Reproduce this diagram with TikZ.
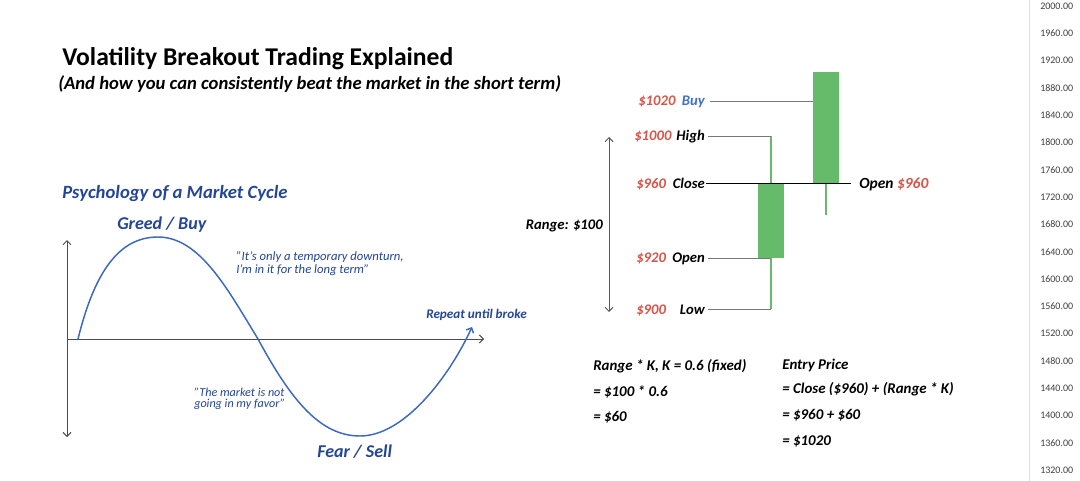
\documentclass[tikz,border=0pt]{standalone}
\usepackage{fontspec}
\setmainfont{Carlito}
\usetikzlibrary{arrows.meta}
\definecolor{psyblue}{RGB}{36,70,148}
\definecolor{curveblue}{RGB}{60,104,192}
\definecolor{pricered}{RGB}{214,84,72}
\definecolor{buyblue}{RGB}{62,112,208}
\definecolor{candle}{RGB}{102,187,106}
\definecolor{leader}{RGB}{120,120,120}
\definecolor{axisgray}{RGB}{222,222,222}

\begin{document}
\begin{tikzpicture}[x=0.75pt,y=-0.75pt,
    txt/.style={inner sep=0pt},
    psy/.style={txt,psyblue,font=\bfseries\itshape\fontsize{13.5}{15}\selectfont},
    quote/.style={txt,psyblue,align=left,font=\itshape\fontsize{9.5}{7.6}\selectfont},
    lbl/.style={txt,font=\bfseries\itshape\fontsize{11}{13}\selectfont},
    calc/.style={txt,anchor=base west,font=\bfseries\itshape\fontsize{11.2}{12}\selectfont},
    lead/.style={draw=leader,line width=0.65pt},
    wick/.style={draw=candle,line width=1.7pt},
    barb/.style={arrows={-{Straight Barb[length=3pt,width=6pt]}}}]
  \useasboundingbox[fill=white] (0,0) rectangle (1080,481);

  % headings
  \node[txt,anchor=base west,font=\bfseries\fontsize{19.2}{22}\selectfont] (title) at (62,66) {Volatility Breakout Trading Explained};
  \node[txt,anchor=base west,font=\bfseries\itshape\fontsize{14}{16}\selectfont] (subtitle) at (58,90) {(And how you can consistently beat the market in the short term)};

  % market cycle
  \node[psy,anchor=base west,font=\bfseries\itshape\fontsize{14}{16}\selectfont] (cycle) at (62,198) {Psychology of a Market Cycle};
  \node[psy,anchor=base west] (greed) at (117,229) {Greed / Buy};
  \node[psy,anchor=base west] (fear) at (317,457) {Fear / Sell};
  \node[quote,anchor=base west] (hold) at (236,273) {"It's only a temporary downturn,\\I'm in it for the long term"};
  \node[quote,anchor=base west,font=\itshape\fontsize{9.1}{7.6}\selectfont] (doubt) at (194,407) {"The market is not\\going in my favor"};
  \node[txt,psyblue,anchor=base west,font=\bfseries\itshape\fontsize{9.9}{11}\selectfont] (repeat) at (426,318) {Repeat until broke};

  \coordinate (ytop) at (67,240);
  \coordinate (ybot) at (67,437);
  \coordinate (orig) at (67,339);
  \coordinate (xend) at (484,339);
  \draw[black!70,line width=0.75pt,arrows={{Straight Barb[length=3pt,width=6pt]}-{Straight Barb[length=3pt,width=6pt]}}] (ytop) -- (ybot);
  \draw[black!70,line width=0.75pt,barb] (orig) -- (xend);
  \draw[curveblue,line width=1.1pt,barb] (78,339)
    .. controls (95,270) and (120,237) .. (158,237)
    .. controls (200,237) and (228,290) .. (258,339)
    .. controls (291,400) and (320,436) .. (360,436)
    .. controls (405,436) and (450,375) .. (472,327);

  % candles
  \coordinate (c1high) at (771,136);
  \coordinate (c1top) at (771,183);
  \coordinate (c1bot) at (771,258);
  \coordinate (c1low) at (771,309);
  \coordinate (c2buy) at (813,101);
  \coordinate (c2bot) at (826,183);
  \coordinate (c2low) at (826,215);
  \draw[wick] (c1high) -- (c1top);
  \draw[wick] (c1bot) -- (c1low);
  \draw[wick] (c2bot) -- (c2low);
  \fill[candle] (758,183) rectangle (784,258);
  \fill[candle] (813,72) rectangle (839,183);

  \foreach \nm/\y/\px/\pv/\word/\wcol in {
      buy/106/638/1020/Buy/buyblue,
      high/141/634/1000/High/black,
      close/188/636/960/Close/black,
      open/262/636/920/Open/black,
      low/314/636/900/Low/black}{
    \node[lbl,pricered,anchor=base west] (p\nm) at (\px,\y) {\$\pv};
    \node[lbl,\wcol,anchor=base east] (w\nm) at (705,\y) {\word};
  }
  \node[lbl,anchor=base west,font=\bfseries\itshape\fontsize{11.6}{13}\selectfont] (nopen) at (859,188) {Open \textcolor{pricered}{\$960}};

  \draw[lead] ([xshift=4pt]wbuy.east |- c2buy) -- (c2buy);
  \draw[lead] ([xshift=2pt]whigh.east |- c1high) -- (c1high);
  \draw[lead] ([xshift=2pt]wopen.east |- c1bot) -- (c1bot);
  \draw[lead] ([xshift=2pt]wlow.east |- c1low) -- (c1low);
  \draw[black,line width=0.65pt] ([xshift=1pt]wclose.east |- c1top) -- ([xshift=-6pt]nopen.west |- c1top);

  % range
  \coordinate (rtop) at (609,137);
  \coordinate (rbot) at (609,312);
  \draw[black!65,line width=0.75pt,arrows={{Straight Barb[length=3pt,width=6pt]}-{Straight Barb[length=3pt,width=6pt]}}] (rtop) -- (rbot);
  \node[lbl,anchor=base east] (range) at (603,229) {Range: \$100};

  % entry price
  \node[calc] (k1) at (593,370) {Range * K, K = 0.6 (fixed)};
  \node[calc] (k2) at (593,396) {= \$100 * 0.6};
  \node[calc] (k3) at (593,421) {= \$60};
  \node[calc] (e1) at (782,369) {Entry Price};
  \node[calc] (e2) at (782,393) {= Close (\$960) + (Range * K)};
  \node[calc] (e3) at (782,419) {= \$960 + \$60};
  \node[calc] (e4) at (782,445) {= \$1020};

  % price scale
  \draw[axisgray,line width=0.75pt] (1029,0) -- (1029,481);
  \foreach \i in {0,...,17}{
    \pgfmathtruncatemacro{\v}{2000-40*\i}
    \node[txt,anchor=west,black!75,font=\fontsize{7.5}{9}\selectfont] (s\i) at (1040,{6+27.3*\i}) {\v.00};
  }
\end{tikzpicture}
\end{document}
